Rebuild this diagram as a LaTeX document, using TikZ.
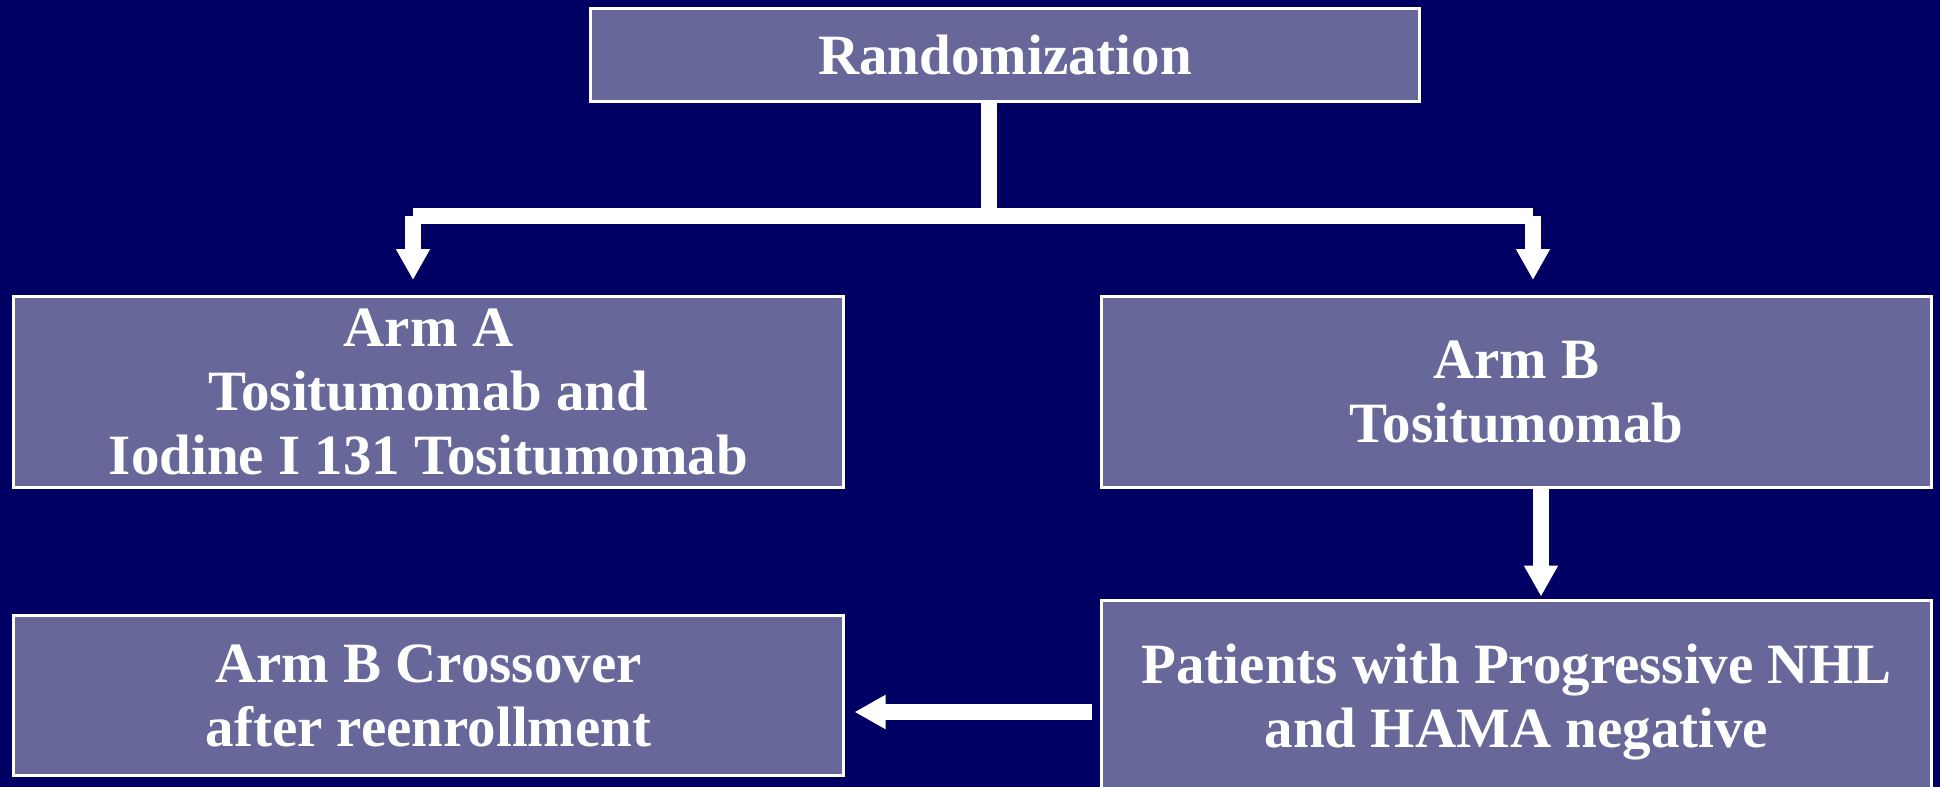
\documentclass[tikz,border=0pt]{standalone}
\usepackage{fontspec}
\setmainfont{Liberation Serif}
\usetikzlibrary{arrows.meta}
\definecolor{bgblue}{RGB}{0,0,100}
\definecolor{boxfill}{RGB}{103,103,153}
\begin{document}
\begin{tikzpicture}[x=0.5pt,y=-0.5pt,
  box/.style={draw=white, line width=1.5pt, fill=boxfill, text=white, align=center,
    inner sep=0pt, font=\fontsize{28.5pt}{32pt}\selectfont\bfseries},
  conn/.style={white, line width=8pt},
  arr/.style={conn, -{Triangle[length=15.5pt,width=16pt]}}]
\useasboundingbox (0,0) rectangle (1940,787);
\clip (0,0) rectangle (1940,787);
\fill[bgblue] (0,0) rectangle (1940,787);

\node[box, minimum width=414.5pt, minimum height=46.5pt] (rand) at (1005,55) {Randomization};
\node[box, minimum width=415pt, minimum height=95.5pt] (armA) at (428.5,392)
  {Arm A\\Tositumomab and\\Iodine I 131 Tositumomab};
\node[box, minimum width=415pt, minimum height=95.5pt] (armB) at (1516.5,392)
  {Arm B\\Tositumomab};
\node[box, minimum width=415pt, minimum height=80pt] (cross) at (428.5,695.5)
  {Arm B Crossover\\after reenrollment};
\node[box, minimum width=415pt, minimum height=101.5pt] (pat) at (1516.5,702)
  {Patients with Progressive NHL\\and HAMA negative};

\coordinate (j) at (989,216);
\coordinate (jl) at (413,216);
\coordinate (jr) at (1533,216);
\coordinate (bx) at (1541,0);
\coordinate (cy) at (0,712);

\draw[conn] (rand.south -| j) -- (j);
\draw[conn] (jl) -- (jr);
\draw[arr, shorten >=7.5pt] (jl) -- (jl |- armA.north);
\draw[arr, shorten >=7.5pt] (jr) -- (jr |- armB.north);
\draw[arr, shorten >=1.25pt] (armB.south -| bx) -- (pat.north -| bx);
\draw[arr, shorten <=4.25pt, shorten >=4.75pt] (pat.west |- cy) -- (cross.east |- cy);
\end{tikzpicture}
\end{document}
